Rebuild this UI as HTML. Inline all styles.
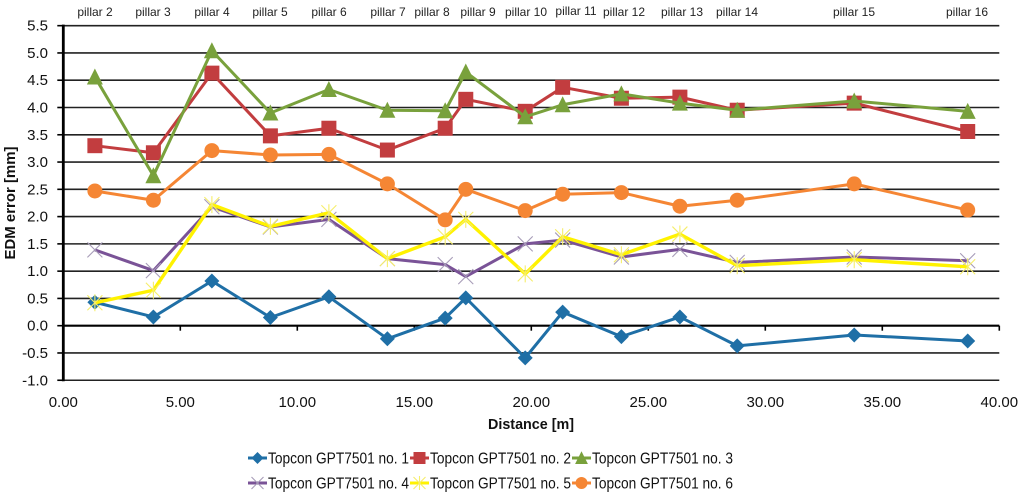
<!DOCTYPE html>
<html lang="en">
<head>
<meta charset="utf-8">
<title>EDM error vs distance</title>
<style>
html,body{margin:0;padding:0;background:#fff;width:1024px;height:496px;overflow:hidden}
svg{display:block}
text{font-family:"Liberation Sans",Arial,sans-serif;fill:#111}
.pillar{font-size:12px;fill:#222;text-anchor:middle}
.tick{font-size:15px;fill:#111}
</style>
</head>
<body>
<svg id="chart" xmlns="http://www.w3.org/2000/svg" width="1024" height="496" viewBox="0 0 1024 496">
  <g>
    <text class="pillar" x="95" y="16">pillar 2</text>
    <text class="pillar" x="153" y="16">pillar 3</text>
    <text class="pillar" x="212" y="16">pillar 4</text>
    <text class="pillar" x="270" y="16">pillar 5</text>
    <text class="pillar" x="329" y="16">pillar 6</text>
    <text class="pillar" x="388" y="16">pillar 7</text>
    <text class="pillar" x="432" y="16">pillar 8</text>
    <text class="pillar" x="478" y="16">pillar 9</text>
    <text class="pillar" x="526" y="16">pillar 10</text>
    <text class="pillar" x="576" y="15">pillar 11</text>
    <text class="pillar" x="624" y="16">pillar 12</text>
    <text class="pillar" x="682" y="16">pillar 13</text>
    <text class="pillar" x="737" y="16">pillar 14</text>
    <text class="pillar" x="854" y="16">pillar 15</text>
    <text class="pillar" x="967" y="16">pillar 16</text>
  </g>
  <g id="grid"></g>
  <g id="axes"></g>
  <g id="series"></g>
  <text x="531" y="429" text-anchor="middle" font-size="14.5" font-weight="bold" textLength="86" lengthAdjust="spacingAndGlyphs">Distance [m]</text>
  <text transform="translate(15 203) rotate(-90)" text-anchor="middle" font-size="14.5" font-weight="bold" textLength="113" lengthAdjust="spacingAndGlyphs">EDM error [mm]</text>
  <g id="legend"></g>
</svg>
<script>
const distances = [1.35, 3.85, 6.35, 8.85, 11.35, 13.85, 16.32, 17.2, 19.74, 21.34, 23.85, 26.35, 28.8, 33.8, 38.65];
const seriesNames = ["Topcon GPT7501 no. 1", "Topcon GPT7501 no. 2", "Topcon GPT7501 no. 3", "Topcon GPT7501 no. 4", "Topcon GPT7501 no. 5", "Topcon GPT7501 no. 6"];
const series1 = [0.43, 0.16, 0.82, 0.15, 0.53, -0.24, 0.14, 0.51, -0.59, 0.25, -0.20, 0.16, -0.37, -0.17, -0.28];
const series2 = [3.30, 3.17, 4.63, 3.48, 3.62, 3.22, 3.62, 4.15, 3.93, 4.37, 4.17, 4.19, 3.95, 4.08, 3.56];
const series3 = [4.56, 2.75, 5.04, 3.90, 4.33, 3.95, 3.94, 4.65, 3.83, 4.05, 4.25, 4.08, 3.95, 4.12, 3.93];
const series4 = [1.39, 1.01, 2.18, 1.81, 1.95, 1.23, 1.12, 0.90, 1.50, 1.57, 1.26, 1.40, 1.16, 1.26, 1.19];
const series5 = [0.42, 0.65, 2.22, 1.82, 2.07, 1.23, 1.63, 1.95, 0.95, 1.63, 1.30, 1.68, 1.10, 1.21, 1.08];
const series6 = [2.47, 2.30, 3.21, 3.13, 3.14, 2.60, 1.94, 2.50, 2.11, 2.41, 2.44, 2.19, 2.30, 2.60, 2.12];
const yTicks = [5.5, 5.0, 4.5, 4.0, 3.5, 3.0, 2.5, 2.0, 1.5, 1.0, 0.5, 0.0, -0.5, -1.0];
const xTicks = [0, 5, 10, 15, 20, 25, 30, 35, 40];

const NS = "http://www.w3.org/2000/svg";
const xAt = function (v) { return 63.3 + v * 23.4; };
const yAt = function (v) { return 325.7 - v * 54.55; };
const allSeries = [series1, series2, series3, series4, series5, series6];
const colors = ["#1f6fa6", "#c23d3f", "#79a13c", "#7a5397", "#fff200", "#f58634"];
const kinds = ["diamond", "square", "triangle", "cross", "star", "circle"];

function make(tag, attrs, parent) {
  const el = document.createElementNS(NS, tag);
  Object.keys(attrs).forEach(function (k) { el.setAttribute(k, attrs[k]); });
  parent.appendChild(el);
  return el;
}

function drawMarker(kind, cx, cy, color, scale, parent) {
  const g = make("g", {}, parent);
  
  
  const s = scale;
  if (kind === "diamond") {
    make("path", { d: "M" + cx + " " + (cy - 7.5 * s) + "L" + (cx + 7.5 * s) + " " + cy + "L" + cx + " " + (cy + 7.5 * s) + "L" + (cx - 7.5 * s) + " " + cy + "Z", fill: color }, g);
  } else if (kind === "square") {
    make("rect", { x: cx - 7.5 * s, y: cy - 7.5 * s, width: 15 * s, height: 15 * s, fill: color }, g);
  } else if (kind === "triangle") {
    make("path", { d: "M" + cx + " " + (cy - 8.5 * s) + "L" + (cx + 8 * s) + " " + (cy + 7.5 * s) + "L" + (cx - 8 * s) + " " + (cy + 7.5 * s) + "Z", fill: color }, g);
  } else if (kind === "circle") {
    make("circle", { cx: cx, cy: cy, r: 7.5 * s, fill: color }, g);
  } else if (kind === "cross") {
    const d = 7.5 * s;
    make("path", { d: "M" + (cx - d) + " " + (cy - d) + "L" + (cx + d) + " " + (cy + d) + "M" + (cx - d) + " " + (cy + d) + "L" + (cx + d) + " " + (cy - d), stroke: "#a79cb8", "stroke-width": 1.1, fill: "none" }, g);
  } else if (kind === "star") {
    const d = 7.5 * s;
    make("path", { d: "M" + (cx - d) + " " + (cy - d) + "L" + (cx + d) + " " + (cy + d) + "M" + (cx - d) + " " + (cy + d) + "L" + (cx + d) + " " + (cy - d) + "M" + cx + " " + (cy - d - 1) + "L" + cx + " " + (cy + d + 1), stroke: "#f6ee6a", "stroke-width": 1.1, fill: "none" }, g);
  }
}

const gridLayer = document.getElementById("grid");
const axesLayer = document.getElementById("axes");
const seriesLayer = document.getElementById("series");
const legendLayer = document.getElementById("legend");

yTicks.forEach(function (t) {
  const y = yAt(t);
  if (t !== 0) {
    const line = make("line", { x1: xAt(0), x2: xAt(40), y1: y, y2: y, stroke: "#222", "stroke-width": 1.6 }, gridLayer);
    
    
  }
  const tick = make("line", { x1: xAt(0) - 6, x2: xAt(0), y1: y, y2: y, stroke: "#000", "stroke-width": 1.6 }, axesLayer);
  
  
  const label = make("text", { x: 48, y: y + 5, "text-anchor": "end", class: "tick" }, axesLayer);
  
  
  label.textContent = t.toFixed(1);
});

xTicks.forEach(function (t) {
  const x = xAt(t);
  if (t !== 0) {
    const tick = make("line", { x1: x, x2: x, y1: yAt(0), y2: yAt(0) + 5, stroke: "#000", "stroke-width": 1.6 }, axesLayer);
    
    
  }
  const label = make("text", { x: x, y: 407, "text-anchor": "middle", class: "tick" }, axesLayer);
  
  
  label.textContent = t.toFixed(2);
});

const xAxis = make("line", { x1: xAt(0), x2: xAt(40), y1: yAt(0), y2: yAt(0), stroke: "#000", "stroke-width": 2.2 }, axesLayer);


const yAxis = make("line", { x1: xAt(0), x2: xAt(0), y1: yAt(5.5) - 1, y2: yAt(-1) + 1, stroke: "#000", "stroke-width": 2.8 }, axesLayer);



allSeries.forEach(function (values, i) {
  const g = make("g", {}, seriesLayer);
  
  
  const pts = values.map(function (v, j) { return xAt(distances[j]).toFixed(2) + "," + yAt(v).toFixed(2); }).join(" ");
  const line = make("polyline", { points: pts, fill: "none", stroke: colors[i], "stroke-width": i === 4 ? 3.4 : 3, "stroke-linejoin": "round" }, g);
  
  
  values.forEach(function (v, j) {
    drawMarker(kinds[i], xAt(distances[j]), yAt(v), colors[i], 1, g);
  });
});

seriesNames.forEach(function (name, i) {
  const col = i % 3;
  const row = Math.floor(i / 3);
  const x0 = 248 + col * 162;
  const y0 = 458 + row * 25;
  const entry = make("g", {}, legendLayer);
  
  
  const line = make("line", { x1: x0, x2: x0 + 19, y1: y0, y2: y0, stroke: colors[i], "stroke-width": 3 }, entry);
  
  
  drawMarker(kinds[i], x0 + 9.5, y0, colors[i], 0.8, entry);
  const label = make("text", { x: x0 + 20, y: y0 + 5.5, "font-size": 16, fill: "#111", textLength: 141, lengthAdjust: "spacingAndGlyphs" }, entry);
  
  
  label.textContent = name;
});
</script>
</body>
</html>
